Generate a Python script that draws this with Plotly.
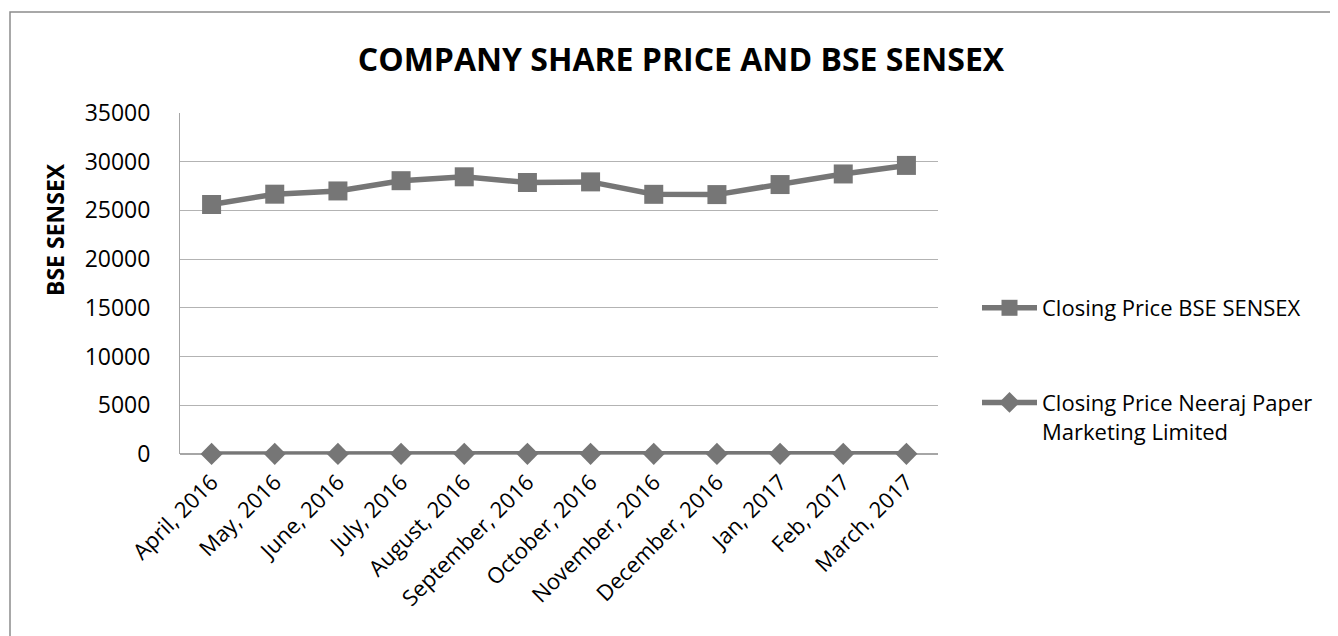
import plotly.graph_objects as go

months = ["April, 2016", "May, 2016", "June, 2016", "July, 2016", "August, 2016",
          "September, 2016", "October, 2016", "November, 2016", "December, 2016",
          "Jan, 2017", "Feb, 2017", "March, 2017"]
sensex = [25606, 26667, 26999, 28051, 28452, 27866, 27930, 26653, 26626, 27656, 28743, 29621]
neeraj = [12, 13, 12, 14, 15, 14, 16, 13, 12, 14, 15, 16]

GRAY = "#767676"
W, H = 1330, 628          # page body adds an 8px margin
L, R, T, B = 172, 930, 105, 446

fig = go.Figure()
fig.add_trace(go.Scatter(x=months, y=sensex, name="Closing Price BSE SENSEX",
                         mode="lines+markers", legendgroup="a", cliponaxis=False,
                         line=dict(color=GRAY, width=5.5),
                         marker=dict(symbol="square", size=19, color=GRAY)))
fig.add_trace(go.Scatter(x=months, y=neeraj, name="Closing Price Neeraj Paper<br>Marketing Limited",
                         mode="lines+markers", legendgroup="b", cliponaxis=False,
                         line=dict(color=GRAY, width=5.5),
                         marker=dict(symbol="diamond", size=17, color=GRAY)))

pw, ph = R - L, B - T
fig.add_shape(type="rect", xref="paper", yref="paper",
              x0=(2 - L) / pw, x1=(1400 - L) / pw,
              y0=(B - 700) / ph, y1=(B - 4) / ph,
              line=dict(color="#8c8c8c", width=1.5), layer="below")

fig.add_annotation(text="<b>BSE SENSEX</b>", xref="paper", yref="paper",
                   x=(47 - L) / pw, y=(B - 222) / ph, xanchor="center", yanchor="middle",
                   textangle=-90, showarrow=False, font=dict(size=23))

fig.update_layout(
    width=W, height=H,
    margin=dict(l=L, r=W - R, t=T, b=H - B),
    paper_bgcolor="white", plot_bgcolor="white",
    font=dict(family="Open Sans, Liberation Sans, sans-serif", size=22, color="black"),
    title=dict(text="<b>COMPANY SHARE PRICE AND BSE SENSEX</b>", x=673 / W, xanchor="center",
               y=1 - 52 / H, yanchor="middle", font=dict(size=32)),
    showlegend=True,
    legend=dict(x=(969 - L) / pw, xanchor="left", y=(B - 279) / ph, yanchor="top",
                tracegroupgap=63, font=dict(size=22), itemwidth=55, valign="top",
                bgcolor="rgba(0,0,0,0)"),
    xaxis=dict(type="category", range=[-0.5, len(months) - 0.5], tickangle=-45,
               showgrid=False, showline=False, ticks="", tickfont=dict(size=22),
               ticklabelstandoff=10, zeroline=False),
    yaxis=dict(range=[0, 35000], dtick=5000, showgrid=True, gridcolor="#b3b3b3",
               gridwidth=1, showline=True, linecolor="#a6a6a6", linewidth=1,
               zeroline=True, zerolinecolor="#a6a6a6", ticks="", tickformat="d",
               tickfont=dict(size=23), ticklabelstandoff=24),
)

fig.write_html("out.html")
